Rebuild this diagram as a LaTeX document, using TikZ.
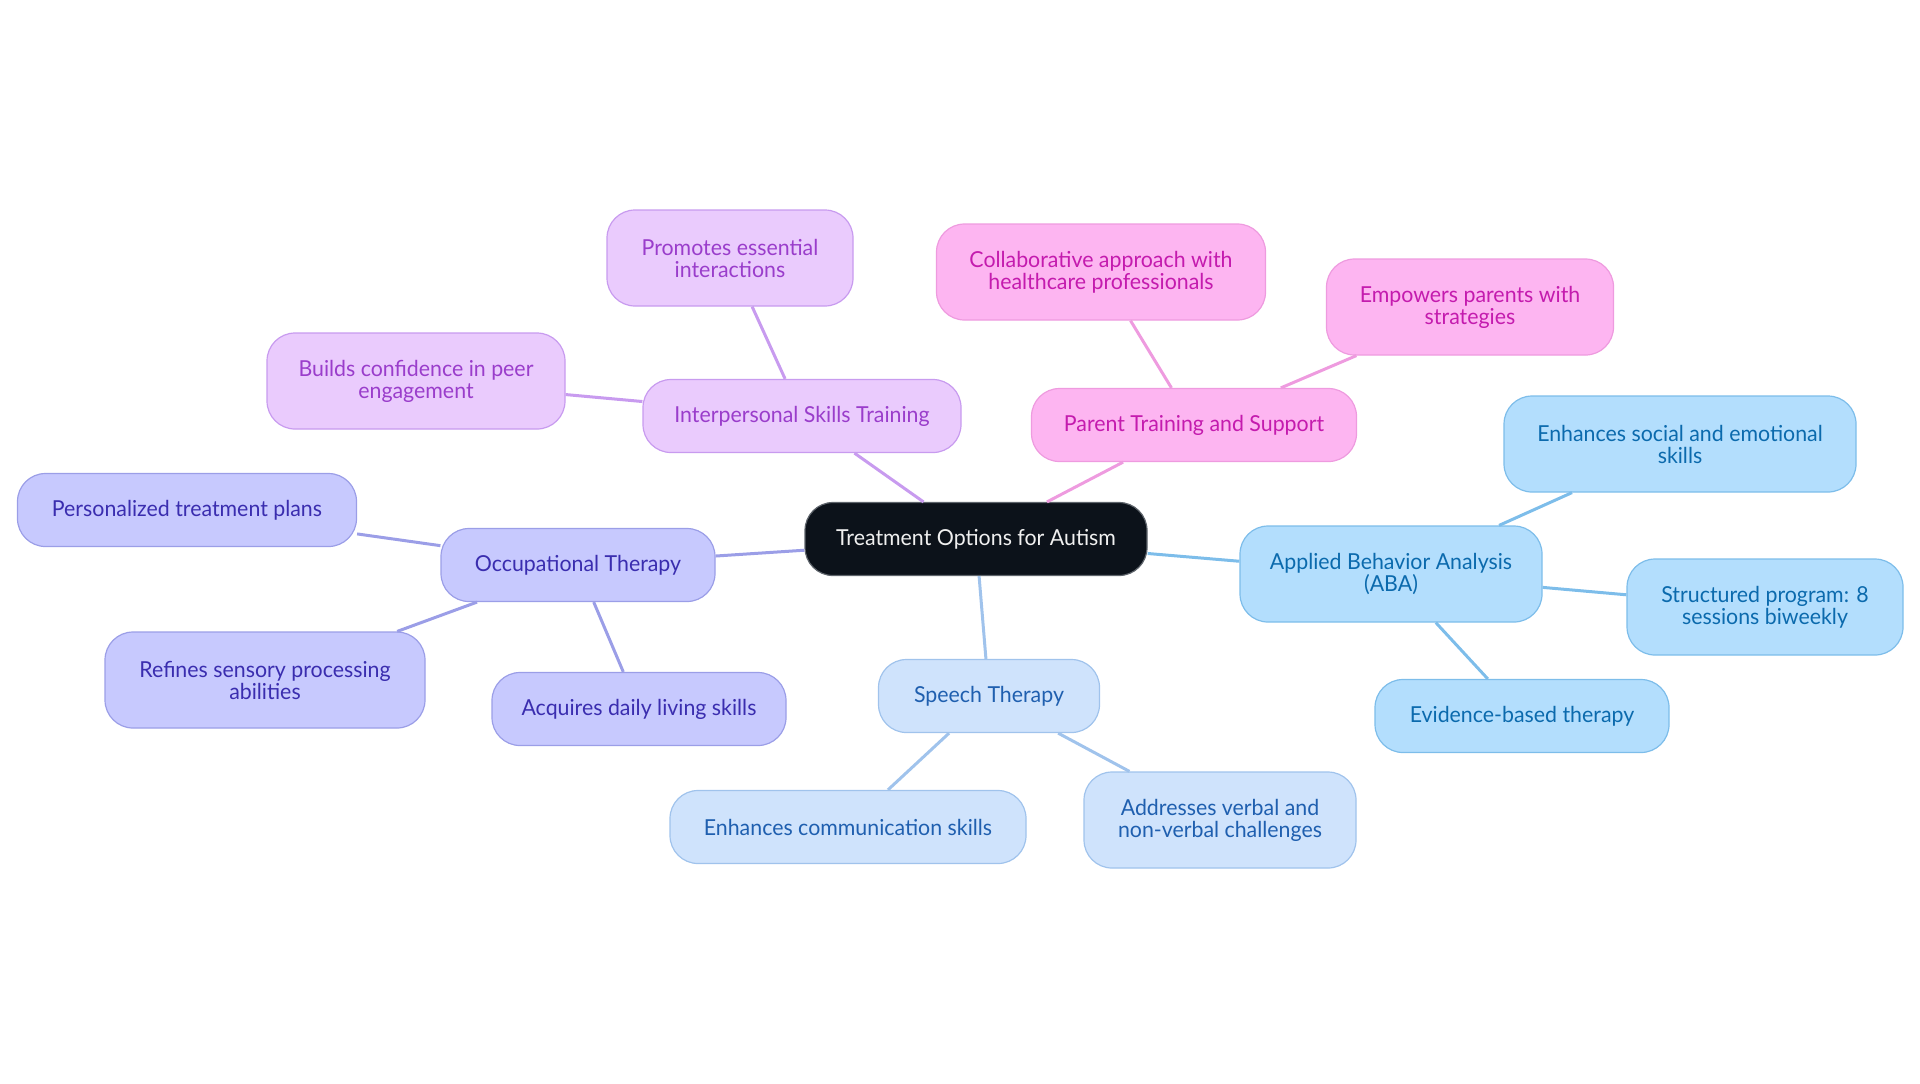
\documentclass[tikz,border=0pt]{standalone}
\usepackage{fontspec}
\setmainfont{Lato}[FakeStretch=0.97]
\definecolor{rootfill}{HTML}{0C121A}
\definecolor{rootline}{HTML}{5E646B}
\definecolor{istfill}{HTML}{EACBFD}
\definecolor{istline}{HTML}{C89BEF}
\definecolor{isttext}{HTML}{9A3DCB}
\definecolor{ptsfill}{HTML}{FDB5F1}
\definecolor{ptsline}{HTML}{EE9BDF}
\definecolor{ptstext}{HTML}{C41BAE}
\definecolor{abafill}{HTML}{B3DEFD}
\definecolor{abaline}{HTML}{7DBDEA}
\definecolor{abatext}{HTML}{0B6AAD}
\definecolor{stfill}{HTML}{CFE3FC}
\definecolor{stline}{HTML}{A0C3EC}
\definecolor{sttext}{HTML}{1F5FAF}
\definecolor{otfill}{HTML}{C7C9FE}
\definecolor{otline}{HTML}{9B9EE7}
\definecolor{ottext}{HTML}{3A2DAF}
\begin{document}
\begin{tikzpicture}[x=0.5pt,y=-0.5pt,
    box/.style={rounded corners=14pt, align=center, inner xsep=6pt, line width=0.6pt,
      minimum height=36.5pt, font=\fontsize{11}{11}\selectfont},
    tall/.style={minimum height=48pt},
    root/.style={box, fill=rootfill, draw=rootline, text=white!94!black},
    ist/.style={box, fill=istfill, draw=istline, text=isttext},
    pts/.style={box, fill=ptsfill, draw=ptsline, text=ptstext},
    aba/.style={box, fill=abafill, draw=abaline, text=abatext},
    st/.style={box, fill=stfill, draw=stline, text=sttext},
    ot/.style={box, fill=otfill, draw=otline, text=ottext},
    link/.style={line width=1.5pt, draw=#1}]
  \useasboundingbox (0,0) rectangle (1920,1083);
  \node[root, minimum width=171pt] (root) at (976,539) {Treatment Options for Autism};
  \node[ist, minimum width=159pt] (ist) at (802,416) {Interpersonal Skills Training};
  \node[ist, tall, minimum width=123pt] (ist1) at (730,258) {Promotes essential\\interactions};
  \node[ist, tall, minimum width=149pt] (ist2) at (416,381) {Builds confidence in peer\\engagement};
  \node[pts, minimum width=162.5pt] (pts) at (1194,425) {Parent Training and Support};
  \node[pts, tall, minimum width=164.5pt] (pts1) at (1101,272) {Collaborative approach with\\healthcare professionals};
  \node[pts, tall, minimum width=143.5pt] (pts2) at (1470,307) {Empowers parents with\\strategies};
  \node[aba, tall, minimum width=151pt] (aba) at (1391,574) {Applied Behavior Analysis\\(ABA)};
  \node[aba, tall, minimum width=176pt] (aba1) at (1680,444) {Enhances social and emotional\\skills};
  \node[aba, tall, minimum width=138pt] (aba2) at (1765,607) {Structured program: 8\\sessions biweekly};
  \node[aba, minimum width=147pt] (aba3) at (1522,716) {Evidence-based therapy};
  \node[st, minimum width=110.5pt] (st) at (989,696) {Speech Therapy};
  \node[st, minimum width=178pt] (st1) at (848,827) {Enhances communication skills};
  \node[st, tall, minimum width=136pt] (st2) at (1220,820) {Addresses verbal and\\non-verbal challenges};
  \node[ot, minimum width=137pt] (ot) at (578,565) {Occupational Therapy};
  \node[ot, minimum width=169.5pt] (ot1) at (187,510) {Personalized treatment plans};
  \node[ot, tall, minimum width=160pt] (ot2) at (265,680) {Refines sensory processing\\abilities};
  \node[ot, minimum width=147pt] (ot3) at (639,709) {Acquires daily living skills};
  \draw[link=istline] (root) -- (ist) (ist) -- (ist1) (ist) -- (ist2);
  \draw[link=ptsline] (root) -- (pts) (pts) -- (pts1) (pts) -- (pts2);
  \draw[link=abaline] (root) -- (aba) (aba) -- (aba1) (aba) -- (aba2) (aba) -- (aba3);
  \draw[link=stline] (root) -- (st) (st) -- (st1) (st) -- (st2);
  \draw[link=otline] (root) -- (ot) (ot) -- (ot1) (ot) -- (ot2) (ot) -- (ot3);
\end{tikzpicture}
\end{document}
